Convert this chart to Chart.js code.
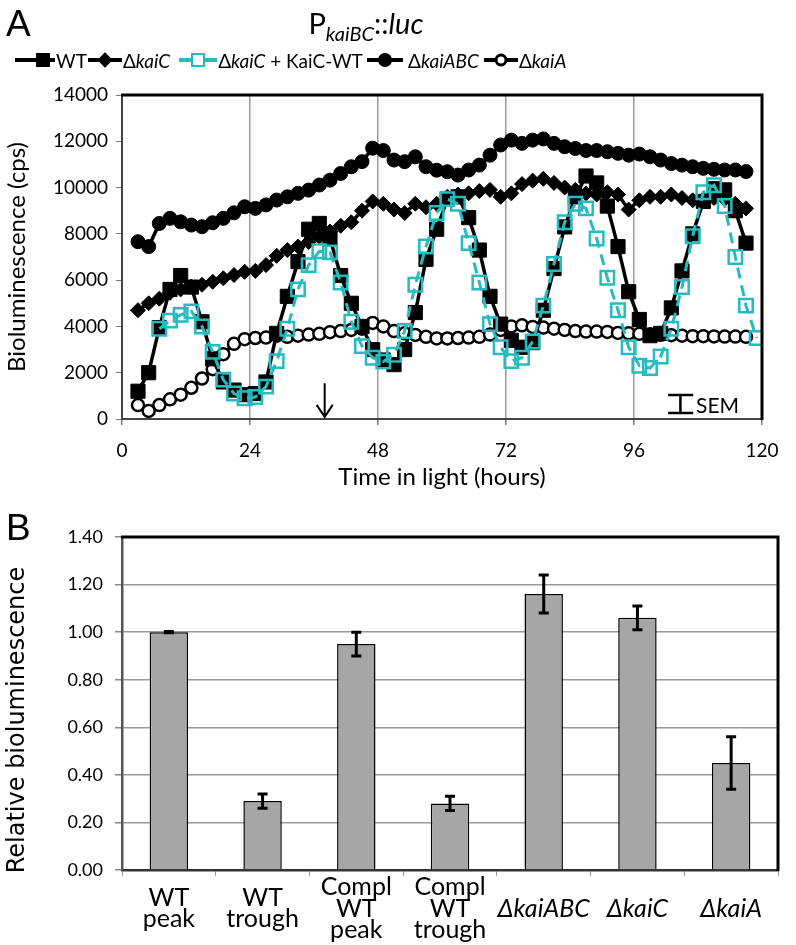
<!DOCTYPE html>
<html>
<head>
<meta charset="utf-8">
<script src="https://cdn.jsdelivr.net/npm/chart.js@4.4.0/dist/chart.umd.min.js"></script>
<style>
  body { margin: 0; background: #fff; width: 796px; height: 945px; position: relative; overflow: hidden; font-family: Lato, sans-serif; color: #000; }
  canvas { position: absolute; left: 0; }
  #chartA { top: 0; }
  #chartB { top: 490px; }
  .panel { position: absolute; font-family: "Liberation Sans", Arial, sans-serif; font-size: 37px; line-height: 1; }
  #title { position: absolute; top: 6px; left: 0; width: 732px; text-align: center; font-size: 29px; line-height: 1.2; }
  #title sub { font-size: 20px; vertical-align: -7px; line-height: 0; }
  #legend { position: absolute; left: 15px; top: 48px; height: 24px; display: flex; align-items: center; font-size: 19px; white-space: nowrap; }
  .sw { position: relative; width: 34px; height: 20px; display: inline-block; }
  .sw .ln { position: absolute; left: 0; right: 0; top: 8px; height: 4px; background: #000; }
  .sw .mk { position: absolute; left: 50%; top: 50%; transform: translate(-50%, -50%); box-sizing: border-box; }
  .sq { width: 14px; height: 14px; background: #000; }
  .dm { width: 11px; height: 11px; background: #000; transform: translate(-50%, -50%) rotate(45deg) !important; }
  .tsq { width: 14px; height: 14px; border: 2.5px solid #26bcbf; background: #fff; }
  .ci { width: 14px; height: 14px; border-radius: 50%; background: #000; }
  .oci { width: 13px; height: 13px; border-radius: 50%; border: 3px solid #000; background: #fff; }
  .tx { margin: 0 1px; }
  #sem { position: absolute; left: 696px; top: 392px; font-size: 21px; }
  #ytitleB { position: absolute; left: 16px; top: 720px; transform: translate(-50%, -50%) rotate(-90deg);
    font-family: "DejaVu Sans", sans-serif; font-size: 24px; white-space: nowrap; line-height: 1; }
</style>
</head>
<body>
<canvas id="chartA" width="796" height="500"></canvas>
<canvas id="chartB" width="796" height="455"></canvas>

<div class="panel" style="left:6px; top:5px;">A</div>
<div class="panel" style="left:6px; top:509px;">B</div>
<div id="title">P<sub><i>kaiBC</i></sub>::<i>luc</i></div>
<div id="legend">
  <span class="sw" style="width:40px"><i class="ln"></i><b class="mk sq" style="left:28px"></b></span><span class="tx">WT</span>
  <span class="sw"><i class="ln"></i><b class="mk dm"></b></span><span class="tx">Δ<i>kaiC</i></span>
  <span class="sw" style="margin-left:8px;width:38px"><i class="ln" style="background:#26bcbf"></i><b class="mk tsq"></b></span><span class="tx">Δ<i>kaiC</i> + KaiC-WT</span>
  <span class="sw" style="margin-left:3px;width:36px"><i class="ln"></i><b class="mk ci"></b></span><span class="tx">&nbsp;Δ<i>kaiABC</i></span>
  <span class="sw" style="margin-left:4px;width:34px"><i class="ln"></i><b class="mk oci"></b></span><span class="tx">Δ<i>kaiA</i></span>
</div>
<div id="sem">SEM</div>
<div id="ytitleB">Relative bioluminescence</div>

<script>
// panel A: time points (hours in light)
const hours = [3,5,7,9,11,13,15,17,19,21,23,25,27,29,31,33,35,37,39,41,43,45,47,49,51,53,55,57,59,61,
  63,65,67,69,71,73,75,77,79,81,83,85,87,89,91,93,95,97,99,101,103,105,107,109,111,113,115,117];
const complHours = [7,9,11,13,15,17,19,21,23,25,27,29,31,33,35,37,39,41,43,45,47,49,51,53,55,57,59,61,
  63,65,67,69,71,73,75,77,79,81,83,85,87,89,91,93,95,97,99,101,103,105,107,109,111,113,115,117,119];

// bioluminescence (cps)
const wt = [1200,2000,3950,5600,6200,5700,4200,2600,1600,1250,1050,1100,1600,3700,5300,6800,8200,8450,7800,6200,
  5000,4000,3000,2550,2350,3000,4600,6900,8200,9500,9600,8700,7300,5300,4100,3400,3100,3300,4700,6500,
  8300,9600,10500,10200,9200,7450,5500,4300,3600,3700,4800,6400,8000,9400,9950,9900,9000,7600];
const kaiC = [4700,5000,5200,5450,5600,5720,5800,5930,6080,6220,6360,6400,6650,7050,7300,7450,7650,7880,8100,8350,
  8500,9000,9400,9300,9050,8900,9300,9150,9300,9600,9700,9750,9850,9900,9600,9750,10150,10300,10380,10200,
  10000,9900,9750,9700,9800,9700,9050,9450,9600,9600,9700,9550,9450,9500,9550,9500,9300,9100];
const complWT = [3900,4250,4500,4650,4000,2900,1700,1100,900,950,1400,2500,3900,5600,6650,7250,7200,5900,4200,3150,
  2650,2480,2780,3800,5800,7450,8900,9500,9300,7600,5900,4100,3100,2500,2650,3350,4900,6700,8500,9300,
  9100,7800,6100,4700,3100,2300,2200,2700,3900,5700,7900,9800,10100,9200,7000,4900,3500];
const kaiABC = [7660,7450,8450,8670,8520,8380,8310,8480,8670,8910,9170,9100,9250,9460,9600,9750,9890,10110,10320,10610,
  10900,11120,11700,11600,11190,11120,11330,10900,10750,10685,10540,10760,10970,11400,11840,12050,11910,12050,12100,11910,
  11765,11690,11600,11600,11550,11480,11400,11450,11330,11190,11040,10970,10900,10830,10790,10760,10760,10690];
const kaiA = [600,350,600,850,1050,1350,1750,2150,2800,3250,3450,3500,3520,3600,3550,3600,3650,3680,3750,3800,
  3850,3900,4150,4000,3800,3700,3630,3550,3480,3480,3500,3520,3550,3650,3850,4000,4050,3980,3950,3900,
  3850,3800,3780,3780,3760,3720,3700,3680,3660,3640,3620,3600,3580,3580,3570,3560,3560,3550];

// arrow and SEM marker, in data units
const arrowHour = 38;
const arrowFrom = 1550, arrowTo = 90;
const semFrom = 102.4, semTo = 107.1, semMid = 104.7;
const semTop = 1040, semBottom = 260;

// panel B
const barLabels = [['WT','peak'], ['WT','trough'], ['Compl','WT','peak'], ['Compl','WT','trough'], 'ΔkaiABC', 'ΔkaiC', 'ΔkaiA'];
const barValues = [1.00, 0.29, 0.95, 0.28, 1.16, 1.06, 0.45];
const barErrors = [0.003, 0.03, 0.05, 0.03, 0.08, 0.05, 0.11];

const teal = '#26bcbf';
Chart.defaults.font.family = 'Lato';
Chart.defaults.color = '#000';

const pts = (xs, ys) => ys.map((v, i) => ({x: xs[i], y: v}));

// thick black top and right edges of the plot area
const frame = {
  id: 'frame',
  afterDraw(chart) {
    const {ctx, chartArea: a} = chart;
    ctx.save();
    ctx.strokeStyle = '#000';
    ctx.lineWidth = 3;
    ctx.beginPath();
    ctx.moveTo(a.left - 1, a.top);
    ctx.lineTo(a.right, a.top);
    ctx.lineTo(a.right, a.bottom + 1);
    ctx.stroke();
    ctx.restore();
  }
};

const marks = {
  id: 'marks',
  afterDatasetsDraw(chart) {
    const {ctx, scales: {x, y}} = chart;
    ctx.save();
    ctx.strokeStyle = '#000';
    ctx.lineWidth = 2;
    const ax = x.getPixelForValue(arrowHour);
    const a1 = y.getPixelForValue(arrowFrom), a2 = y.getPixelForValue(arrowTo);
    ctx.beginPath();
    ctx.moveTo(ax, a1); ctx.lineTo(ax, a2);
    ctx.moveTo(ax - 8, a2 - 12); ctx.lineTo(ax, a2); ctx.lineTo(ax + 8, a2 - 12);
    ctx.stroke();

    const s1 = x.getPixelForValue(semFrom), s2 = x.getPixelForValue(semTo), sm = x.getPixelForValue(semMid);
    const t = y.getPixelForValue(semTop), b = y.getPixelForValue(semBottom);
    ctx.lineWidth = 2.5;
    ctx.beginPath();
    ctx.moveTo(s1, t); ctx.lineTo(s2, t);
    ctx.moveTo(sm, t); ctx.lineTo(sm, b);
    ctx.moveTo(s1, b); ctx.lineTo(s2, b);
    ctx.stroke();
    ctx.restore();
  }
};

const errorBars = {
  id: 'errorBars',
  afterDatasetsDraw(chart) {
    const {ctx, scales: {y}} = chart;
    const meta = chart.getDatasetMeta(0);
    ctx.save();
    ctx.strokeStyle = '#000';
    ctx.lineWidth = 3;
    meta.data.forEach((bar, i) => {
      const top = y.getPixelForValue(barValues[i] + barErrors[i]);
      const bot = y.getPixelForValue(barValues[i] - barErrors[i]);
      ctx.beginPath();
      ctx.moveTo(bar.x, top); ctx.lineTo(bar.x, bot);
      ctx.moveTo(bar.x - 5, top); ctx.lineTo(bar.x + 5, top);
      ctx.moveTo(bar.x - 5, bot); ctx.lineTo(bar.x + 5, bot);
      ctx.stroke();
    });
    ctx.restore();
  }
};

const lineSet = (label, xs, ys, extra) => Object.assign({
  label: label,
  data: pts(xs, ys),
  borderColor: '#000',
  borderWidth: 3.5,
  tension: 0,
  pointBorderColor: '#000',
  pointBackgroundColor: '#000',
  pointBorderWidth: 1
}, extra);

new Chart(document.getElementById('chartA'), {
  type: 'line',
  data: {
    datasets: [
      lineSet('ΔkaiC + KaiC-WT', complHours, complWT, {order: 0, borderColor: teal, borderWidth: 3, borderDash: [11, 7],
        pointStyle: 'rect', pointRadius: 9.5, pointBorderColor: teal, pointBackgroundColor: 'rgba(0,0,0,0)', pointBorderWidth: 2.5}),
      lineSet('WT', hours, wt, {order: 1, pointStyle: 'rect', pointRadius: 10}),
      lineSet('ΔkaiC', hours, kaiC, {order: 2, pointStyle: 'rectRot', pointRadius: 7.5}),
      lineSet('ΔkaiA', hours, kaiA, {order: 3, pointStyle: 'circle', pointRadius: 6, pointBackgroundColor: '#fff', pointBorderWidth: 2.5}),
      lineSet('ΔkaiABC', hours, kaiABC, {order: 4, pointStyle: 'circle', pointRadius: 7})
    ]
  },
  options: {
    responsive: false,
    animation: false,
    layout: {padding: {top: 95, right: 34, left: 0, bottom: 0}},
    plugins: {legend: {display: false}, tooltip: {enabled: false}},
    scales: {
      x: {
        type: 'linear', min: 0, max: 120,
        ticks: {stepSize: 24, padding: 14, font: {size: 19}},
        grid: {color: '#9a9a9a', lineWidth: 1.5, tickLength: 6, tickColor: '#777'},
        border: {color: '#444', width: 2},
        title: {display: true, text: 'Time in light (hours)', font: {size: 24}, padding: {top: 0, bottom: 8}},
        afterFit: s => { s.height = 81; }
      },
      y: {
        min: 0, max: 14000,
        ticks: {stepSize: 2000, padding: 8, font: {size: 19}, callback: v => String(v)},
        grid: {drawOnChartArea: false, tickLength: 6, tickColor: '#777'},
        border: {color: '#444', width: 2},
        title: {display: true, text: 'Bioluminescence (cps)', font: {size: 24}, padding: {top: 3, bottom: 0}},
        afterFit: s => { s.width = 122; }
      }
    }
  },
  plugins: [frame, marks]
});

new Chart(document.getElementById('chartB'), {
  type: 'bar',
  data: {
    labels: barLabels,
    datasets: [{
      data: barValues,
      backgroundColor: '#a6a6a6',
      borderColor: '#000',
      borderWidth: 1.5,
      categoryPercentage: 1,
      barPercentage: 0.41
    }]
  },
  options: {
    responsive: false,
    animation: false,
    layout: {padding: {top: 47, right: 18, left: 0, bottom: 0}},
    plugins: {legend: {display: false}, tooltip: {enabled: false}},
    scales: {
      x: {
        ticks: {autoSkip: false, maxRotation: 0, padding: 11, crossAlign: 'center',
          font: c => ({family: 'Lato', size: 25, lineHeight: 0.86, style: c.index >= 4 ? 'italic' : 'normal'})},
        grid: {offset: true, drawOnChartArea: false, tickLength: 6, color: '#999'},
        border: {color: '#333', width: 2.5},
        afterFit: s => { s.height = 75; }
      },
      y: {
        min: 0, max: 1.4,
        ticks: {stepSize: 0.2, padding: 12, font: {size: 18}, callback: v => v.toFixed(2)},
        grid: {color: '#9a9a9a', lineWidth: 1.5, tickLength: 7, tickColor: '#888'},
        border: {color: '#555', width: 2.5},
        afterFit: s => { s.width = 122; }
      }
    }
  },
  plugins: [frame, errorBars]
});
</script>
</body>
</html>
